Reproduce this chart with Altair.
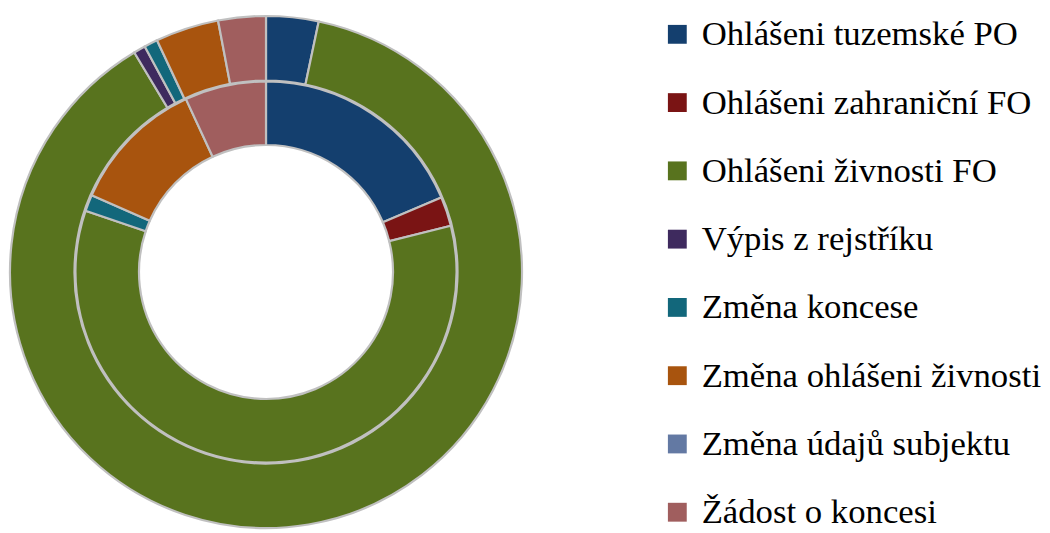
import altair as alt
import pandas as pd

categories = [
    "Ohlášeni tuzemské PO",
    "Ohlášeni zahraniční FO",
    "Ohlášeni živnosti FO",
    "Výpis z rejstříku",
    "Změna koncese",
    "Změna ohlášeni živnosti",
    "Změna údajů subjektu",
    "Žádost o koncesi",
]
colors = ["#143f6e", "#7a1414", "#58731e", "#3e2a5e", "#12677b", "#a8540e", "#6379a3", "#a05e5e"]

# percentages per ring (0 = not present)
inner_values = [18.6, 2.5, 59.1, 0.0, 1.4, 11.5, 0.0, 6.9]
outer_values = [3.3, 0.0, 88.1, 0.75, 0.85, 4.0, 0.0, 3.0]

rows = []
for i, c in enumerate(categories):
    rows.append({"ring": "inner", "cat": c, "idx": i, "value": inner_values[i]})
    rows.append({"ring": "outer", "cat": c, "idx": i, "value": outer_values[i]})
df = pd.DataFrame(rows)

color = alt.Color(
    "cat:N",
    scale=alt.Scale(domain=categories, range=colors),
    legend=alt.Legend(
        title=None,
        orient="none",
        legendX=657,
        legendY=7,
        labelFont="Liberation Serif",
        labelFontSize=35,
        labelColor="#000000",
        symbolType="square",
        symbolSize=361,
        symbolStrokeWidth=0,
        symbolOpacity=1,
        rowPadding=32.8,
        labelOffset=7,
        labelLimit=420,
    ),
)

base = alt.Chart(df).encode(
    theta=alt.Theta("value:Q", stack=True),
    order=alt.Order("idx:Q"),
    color=color,
    x=alt.value(260),
    y=alt.value(264),
)

inner = base.transform_filter(
    (alt.datum.ring == "inner") & (alt.datum.value > 0)
).mark_arc(radius=192, radius2=128, stroke="#c0c0c0", strokeWidth=2.2)

outer = base.transform_filter(
    (alt.datum.ring == "outer") & (alt.datum.value > 0)
).mark_arc(radius=258, radius2=193, stroke="#c0c0c0", strokeWidth=2.2)

chart = (
    alt.layer(inner, outer)
    .resolve_scale(theta="independent")
    .properties(width=1042, height=525, padding=0, autosize=alt.AutoSizeParams(type="none"))
    .configure_view(stroke=None)
)

chart.save("out.html", embed_options={"renderer": "svg", "actions": False})
